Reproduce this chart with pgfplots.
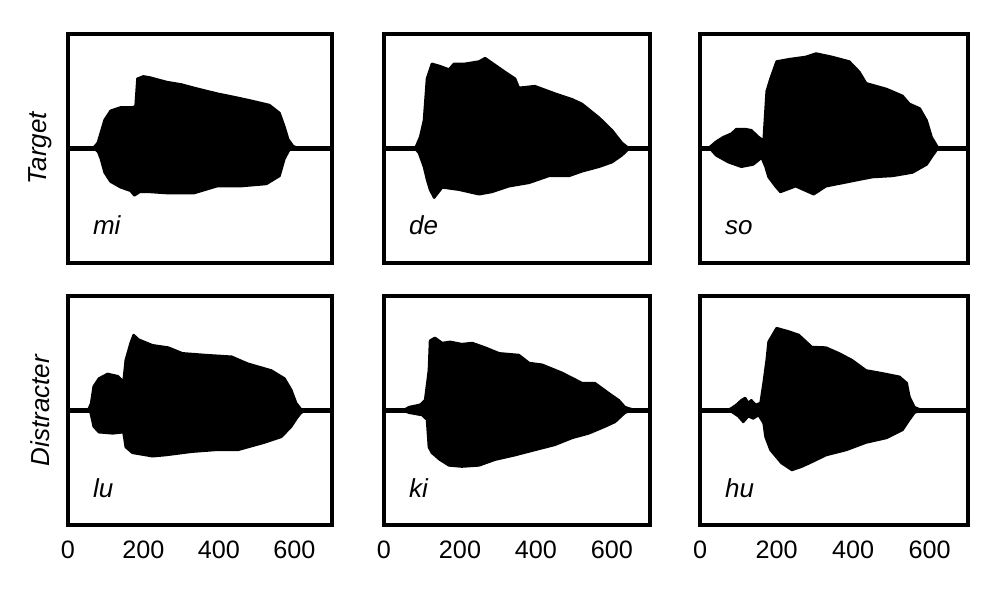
\documentclass[border=0pt]{standalone}
\usepackage{fontspec}
\setmainfont{Liberation Sans}
\usepackage{pgfplots}
\pgfplotsset{compat=1.18}
\usepgfplotslibrary{fillbetween}
\newcommand{\lblfont}{\fontsize{13}{15}\selectfont}
\newcommand{\tickfont}{\fontsize{12.6}{15}\selectfont}
\pgfplotsset{
  panel/.style={scale only axis, height=114.5pt, anchor=south west,
    xmin=0, xmax=700, ymin=-1, ymax=1,
    axis line style={line width=2.2pt, line cap=rect},
    ytick=\empty, xtick={0,200,400,600}, major tick length=0pt,
    /pgf/number format/assume math mode=true,
    ticklabel style={font=\tickfont},
    xticklabel style={anchor=center, yshift=-12.5pt}},
  toprow/.style={xticklabels={}},
  env/.style={draw=black, line width=1.2pt, line join=round},
}
\newcommand{\wave}[3]{%
  \addplot[env, name path=t] coordinates {#1};
  \addplot[env, name path=b] coordinates {#2};
  \addplot[black] fill between[of=t and b];
  \addplot[black, line width=2.2pt] coordinates {(0,0) (700,0)};
  \node[anchor=base west, font=\itshape\lblfont] at (rel axis cs:0,0) [xshift=9pt, yshift=14pt] {#3};
}
\begin{document}
\begin{tikzpicture}
\path (0,0) rectangle (500pt,294.5pt);
% Top row
\begin{axis}[panel, toprow, width=132pt, at={(34pt,163pt)}]
\wave{(0,0)(66,0)(79,0.05)(97,0.25)(113,0.33)(140,0.36)(171,0.36)(179,0.37)(184,0.61)(200,0.63)(218,0.62)(240,0.60)(263,0.58)(300,0.56)(334,0.53)(395,0.48)(440,0.45)(482,0.42)(534,0.38)(561,0.31)(574,0.19)(584,0.08)(597,0.02)(616,0)(700,0)}
{(0,0)(70,0)(80,-0.03)(87,-0.09)(97,-0.21)(113,-0.29)(140,-0.34)(166,-0.37)(176,-0.41)(190,-0.38)(218,-0.38)(263,-0.39)(334,-0.39)(395,-0.33)(455,-0.33)(526,-0.31)(561,-0.24)(574,-0.09)(587,-0.01)(600,0)(700,0)}
{mi}
\end{axis}
\begin{axis}[panel, toprow, width=133pt, at={(192pt,163pt)}]
\wave{(0,0)(82,0)(95,0.10)(105,0.245)(113,0.61)(126,0.74)(147,0.72)(171,0.69)(184,0.74)(213,0.74)(250,0.76)(266,0.79)(292,0.73)(318,0.67)(345,0.61)(355,0.53)(397,0.545)(450,0.48)(495,0.43)(521,0.39)(566,0.27)(600,0.16)(626,0.05)(645,0)(700,0)}
{(0,0)(82,0)(92,-0.04)(105,-0.16)(113,-0.27)(121,-0.36)(132,-0.43)(153,-0.34)(197,-0.36)(250,-0.40)(284,-0.38)(329,-0.33)(382,-0.30)(434,-0.24)(487,-0.24)(521,-0.20)(566,-0.16)(600,-0.12)(626,-0.06)(645,0)(700,0)}
{de}
\end{axis}
\begin{axis}[panel, toprow, width=134pt, at={(350pt,163pt)}]
\wave{(0,0)(21,0)(42,0.06)(61,0.10)(82,0.13)(95,0.17)(118,0.17)(134,0.16)(153,0.10)(166,0.07)(174,0.50)(184,0.61)(200,0.76)(232,0.78)(276,0.80)(303,0.83)(345,0.80)(390,0.76)(416,0.67)(434,0.57)(487,0.52)(529,0.46)(547,0.39)(574,0.35)(592,0.245)(605,0.10)(621,0.01)(640,0)(700,0)}
{(0,0)(26,0)(42,-0.06)(74,-0.12)(108,-0.16)(139,-0.14)(161,-0.08)(171,-0.16)(179,-0.25)(197,-0.33)(210,-0.38)(250,-0.33)(297,-0.40)(329,-0.33)(390,-0.29)(450,-0.25)(503,-0.24)(555,-0.21)(592,-0.14)(608,-0.06)(621,0)(700,0)}
{so}
\end{axis}
% Bottom row
\begin{axis}[panel, width=132pt, at={(34pt,32pt)}]
\wave{(0,0)(53,0)(61,0.06)(68,0.21)(82,0.28)(105,0.32)(132,0.30)(147,0.25)(153,0.44)(166,0.59)(174,0.66)(187,0.62)(224,0.57)(266,0.55)(303,0.50)(363,0.485)(434,0.47)(476,0.41)(539,0.35)(574,0.28)(592,0.18)(605,0.065)(618,0.01)(630,0)(700,0)}
{(0,0)(55,0)(60,-0.02)(68,-0.14)(82,-0.19)(118,-0.20)(147,-0.19)(153,-0.32)(171,-0.37)(224,-0.40)(258,-0.39)(329,-0.36)(390,-0.345)(450,-0.345)(521,-0.28)(566,-0.23)(592,-0.14)(608,-0.06)(618,-0.02)(630,0)(700,0)}
{lu}
\end{axis}
\begin{axis}[panel, width=133pt, at={(192pt,32pt)}]
\wave{(0,0)(50,0)(66,0.03)(95,0.05)(108,0.09)(118,0.35)(121,0.61)(134,0.635)(153,0.59)(174,0.60)(205,0.58)(232,0.59)(266,0.55)(303,0.50)(355,0.485)(382,0.415)(416,0.40)(468,0.33)(521,0.24)(555,0.24)(592,0.15)(618,0.09)(634,0.03)(653,0.01)(670,0)(700,0)}
{(0,0)(50,0)(66,-0.02)(100,-0.04)(113,-0.08)(118,-0.32)(126,-0.37)(147,-0.43)(171,-0.48)(205,-0.49)(250,-0.48)(292,-0.43)(345,-0.39)(397,-0.345)(450,-0.30)(495,-0.24)(539,-0.20)(582,-0.14)(608,-0.10)(634,-0.02)(650,0)(700,0)}
{ki}
\end{axis}
\begin{axis}[panel, width=134pt, at={(350pt,32pt)}]
\wave{(0,0)(70,0)(82,0.02)(95,0.05)(108,0.09)(118,0.11)(126,0.065)(134,0.09)(145,0.05)(158,0.065)(166,0.24)(174,0.44)(179,0.60)(200,0.72)(232,0.69)(258,0.66)(292,0.555)(329,0.55)(363,0.50)(397,0.44)(434,0.35)(468,0.33)(521,0.295)(540,0.24)(547,0.12)(560,0.03)(574,0.01)(590,0)(700,0)}
{(0,0)(70,0)(82,-0.01)(100,-0.05)(113,-0.10)(126,-0.05)(139,-0.07)(153,-0.04)(166,-0.11)(171,-0.23)(184,-0.345)(213,-0.46)(240,-0.52)(266,-0.49)(292,-0.45)(329,-0.39)(382,-0.345)(434,-0.28)(487,-0.24)(529,-0.17)(547,-0.08)(560,-0.02)(575,0)(700,0)}
{hu}
\end{axis}
\node[rotate=90, font=\itshape\lblfont] at (20pt,220.25pt) {Target};
\node[rotate=90, font=\itshape\lblfont] at (20pt,89.25pt) {Distracter};
\end{tikzpicture}
\end{document}
